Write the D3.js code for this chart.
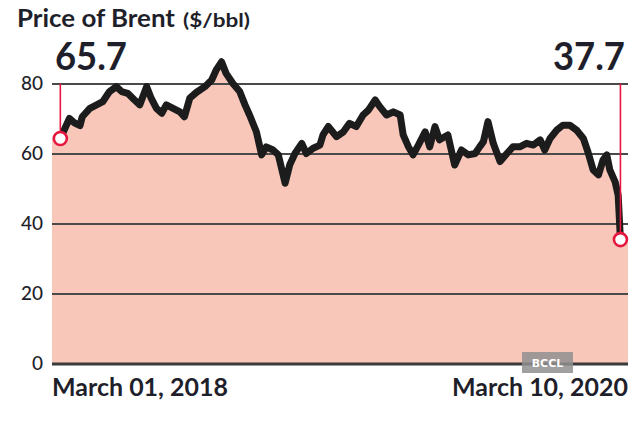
<!DOCTYPE html>
<html>
<head>
<meta charset="utf-8">
<script src="https://cdn.jsdelivr.net/npm/d3@7"></script>
<style>
  html, body { margin: 0; padding: 0; background: #fff; }
  svg { display: block; }
</style>
</head>
<body>
<svg id="chart" width="640" height="423"></svg>
<script>
// ---- DATA ----
const dates = [
  "2018-03-01","2018-03-13","2018-03-20","2018-03-27","2018-03-30","2018-04-09","2018-04-18","2018-04-26",
  "2018-05-05","2018-05-14","2018-05-21","2018-05-29","2018-06-07","2018-06-14","2018-06-23","2018-06-29",
  "2018-07-06","2018-07-13","2018-07-19","2018-07-28","2018-08-06","2018-08-12","2018-08-19","2018-08-28",
  "2018-09-08","2018-09-17","2018-09-23","2018-09-30","2018-10-06","2018-10-15","2018-10-24","2018-10-31",
  "2018-11-06","2018-11-15","2018-11-22","2018-11-28","2018-12-07","2018-12-14","2018-12-23","2018-12-29",
  "2019-01-05","2019-01-14","2019-01-20","2019-01-29","2019-02-07","2019-02-11","2019-02-18","2019-03-01",
  "2019-03-10","2019-03-18","2019-03-27","2019-04-05","2019-04-12","2019-04-21","2019-04-27","2019-05-06",
  "2019-05-15","2019-05-24","2019-05-28","2019-06-04","2019-06-10","2019-06-17","2019-06-26","2019-07-02",
  "2019-07-09","2019-07-15","2019-07-26","2019-08-04","2019-08-13","2019-08-22","2019-08-31","2019-09-06",
  "2019-09-11","2019-09-17","2019-09-24","2019-10-03","2019-10-12","2019-10-20","2019-10-29","2019-11-07",
  "2019-11-16","2019-11-25","2019-12-01","2019-12-08","2019-12-17","2019-12-25","2020-01-03","2020-01-12",
  "2020-01-21","2020-01-27","2020-02-03","2020-02-10","2020-02-16","2020-02-21","2020-02-25","2020-03-03",
  "2020-03-07","2020-03-10"
];
const prices = [
  64.3,70.0,68.7,68.0,70.5,72.9,73.9,74.8,
  77.7,79.1,77.7,77.2,75.3,73.9,79.1,75.8,
  72.9,71.5,73.9,72.9,71.9,70.5,75.8,77.5,
  79.1,81.0,83.9,86.2,82.9,80.0,77.7,73.9,
  71.0,66.2,59.6,61.9,61.0,59.6,51.5,56.7,
  60.0,62.9,60.0,61.5,62.4,65.3,67.7,64.8,
  66.2,68.6,67.7,71.0,72.4,75.3,73.4,71.0,
  71.9,71.0,65.3,61.9,59.6,62.4,66.2,61.9,
  67.7,63.9,65.3,56.7,61.0,59.6,60.0,61.9,
  63.4,69.1,62.9,57.7,60.0,61.9,61.9,62.9,
  62.4,63.9,61.0,64.3,66.7,68.1,68.1,66.7,
  64.3,60.5,55.3,53.9,58.1,59.6,55.3,51.9,
  48.1,35.4
];
const yTicks = [0, 20, 40, 60, 80];
const xLabels = ["March 01, 2018", "March 10, 2020"];
const endLabels = ["65.7", "37.7"];
const titleMain = "Price of Brent";
const titleUnit = "($/bbl)";
const watermark = "BCCL";

// ---- CHART ----
const parse = d3.timeParse("%Y-%m-%d");
const data = dates.map((d, i) => ({ date: parse(d), value: prices[i] }));
const first = data[0], last = data[data.length - 1];

const plotLeft = 52, plotRight = 628;
const x = d3.scaleTime()
  .domain([d3.timeDay.offset(first.date, -11), d3.timeDay.offset(last.date, 10)])
  .range([plotLeft, plotRight]);
const y = d3.scaleLinear().domain([0, 80]).range([363.5, 83.5]);

const svg = d3.select("#chart");
const inkFont = "Lato, 'Open Sans', sans-serif";
const ink = "#1f1f2b";

// area fill (extended to plot edges)
const areaData = [{ date: x.domain()[0], value: first.value }, ...data, { date: x.domain()[1], value: last.value }];
svg.append("path")
  .datum(areaData)
  .attr("fill", "#f8c7ba")
  .attr("d", d3.area().x(d => x(d.date)).y0(y(0)).y1(d => y(d.value)));

// y axis with gridlines
const yAxis = svg.append("g")
  .attr("transform", `translate(${plotLeft},0)`)
  .call(d3.axisLeft(y).tickValues(yTicks).tickSizeInner(-(plotRight - plotLeft)).tickSizeOuter(0).tickPadding(9));
yAxis.select(".domain").remove();
yAxis.selectAll(".tick line")
  .attr("stroke", d => d === 0 ? "#3a3a3a" : "#4a4a4a")
  .attr("stroke-width", d => d === 0 ? 3 : 2);
yAxis.selectAll(".tick text")
  .attr("font-family", inkFont)
  .attr("font-size", 19)
  .attr("font-weight", 500)
  .attr("fill", ink);

// line
svg.append("path")
  .datum(data)
  .attr("fill", "none")
  .attr("stroke", "#1c1c1c")
  .attr("stroke-width", 7)
  .attr("stroke-linejoin", "round")
  .attr("stroke-linecap", "round")
  .attr("d", d3.line().x(d => x(d.date)).y(d => y(d.value)));

// red markers
const red = "#e5173f";
[first, last].forEach(p => {
  svg.append("line")
    .attr("x1", x(p.date)).attr("x2", x(p.date))
    .attr("y1", y(80)).attr("y2", y(p.value))
    .attr("stroke", red).attr("stroke-width", 1.6);
  svg.append("circle")
    .attr("cx", x(p.date)).attr("cy", y(p.value)).attr("r", 6.5)
    .attr("fill", "#fff").attr("stroke", red).attr("stroke-width", 2.6);
});

// end value labels
svg.append("text")
  .attr("x", 55).attr("y", 70)
  .attr("font-family", inkFont).attr("font-weight", 700).attr("font-size", 38)
  .attr("fill", ink)
  .attr("textLength", 72).attr("lengthAdjust", "spacingAndGlyphs")
  .text(endLabels[0]);
svg.append("text")
  .attr("x", 625).attr("y", 70).attr("text-anchor", "end")
  .attr("font-family", inkFont).attr("font-weight", 700).attr("font-size", 38)
  .attr("fill", ink)
  .attr("textLength", 72).attr("lengthAdjust", "spacingAndGlyphs")
  .text(endLabels[1]);

// title
svg.append("text")
  .attr("x", 17).attr("y", 27)
  .attr("font-family", inkFont).attr("font-weight", 700).attr("font-size", 25)
  .attr("fill", ink)
  .attr("textLength", 158).attr("lengthAdjust", "spacingAndGlyphs")
  .text(titleMain);
svg.append("text")
  .attr("x", 183).attr("y", 27)
  .attr("font-family", inkFont).attr("font-weight", 700).attr("font-size", 18)
  .attr("fill", ink)
  .attr("textLength", 67).attr("lengthAdjust", "spacingAndGlyphs")
  .text(titleUnit);

// x labels
svg.append("text")
  .attr("x", plotLeft).attr("y", 396)
  .attr("font-family", inkFont).attr("font-weight", 700).attr("font-size", 25)
  .attr("fill", ink)
  .attr("textLength", 176).attr("lengthAdjust", "spacingAndGlyphs")
  .text(xLabels[0]);
svg.append("text")
  .attr("x", plotRight).attr("y", 396).attr("text-anchor", "end")
  .attr("font-family", inkFont).attr("font-weight", 700).attr("font-size", 25)
  .attr("fill", ink)
  .attr("textLength", 176).attr("lengthAdjust", "spacingAndGlyphs")
  .text(xLabels[1]);

// watermark
svg.append("rect")
  .attr("x", 522).attr("y", 352).attr("width", 51).attr("height", 21)
  .attr("fill", "#8f8f8f").attr("opacity", 0.85);
svg.append("text")
  .attr("x", 547.5).attr("y", 367).attr("text-anchor", "middle")
  .attr("font-family", "'DejaVu Sans', sans-serif").attr("font-weight", 700).attr("font-size", 11)
  .attr("fill", "#fff")
  .text(watermark);
</script>
</body>
</html>
